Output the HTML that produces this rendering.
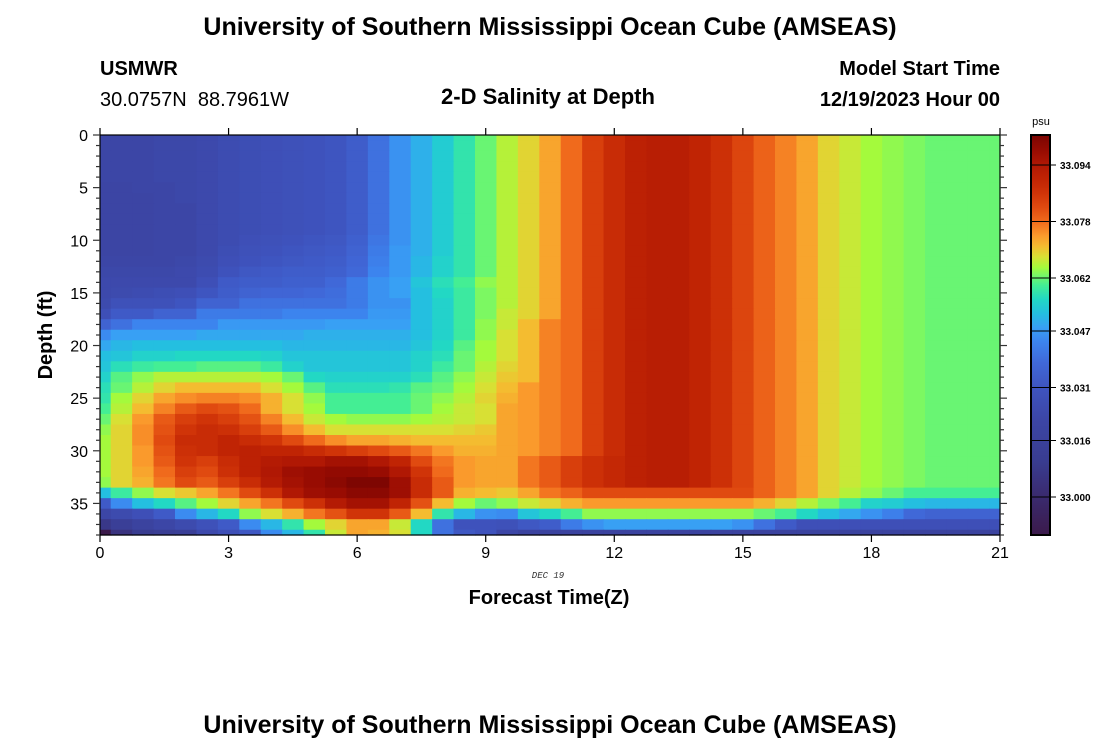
<!DOCTYPE html>
<html><head><meta charset="utf-8"><style>
html,body{margin:0;padding:0;background:#fff;}
svg{display:block;font-family:"Liberation Sans",Arial,sans-serif;}
text{white-space:pre;}
</style></head><body>
<svg id="chart" width="1100" height="750" viewBox="0 0 1100 750" xmlns="http://www.w3.org/2000/svg">
<text x="550" y="35" text-anchor="middle" font-size="25" font-weight="bold">University of Southern Mississippi Ocean Cube (AMSEAS)</text>
<text x="100" y="75" font-size="20" font-weight="bold">USMWR</text>
<text x="100" y="106" font-size="20" xml:space="preserve">30.0757N  88.7961W</text>
<text x="548" y="104" text-anchor="middle" font-size="22" font-weight="bold">2-D Salinity at Depth</text>
<text x="1000" y="75" text-anchor="end" font-size="20" font-weight="bold">Model Start Time</text>
<text x="1000" y="106" text-anchor="end" font-size="20" font-weight="bold">12/19/2023 Hour 00</text>
<g id="cells"></g>
<g id="axes"></g>
<g id="cbar"></g>
<text x="548" y="578" text-anchor="middle" font-size="9" font-style="italic" font-family="Liberation Mono, monospace" fill="#333">DEC 19</text>
<text x="549" y="604" text-anchor="middle" font-size="20" font-weight="bold">Forecast Time(Z)</text>
<text transform="translate(52,335) rotate(-90)" text-anchor="middle" font-size="20" font-weight="bold">Depth (ft)</text>
<text x="1041" y="125" text-anchor="middle" font-size="11">psu</text>
<text x="550" y="733" text-anchor="middle" font-size="25" font-weight="bold">University of Southern Mississippi Ocean Cube (AMSEAS)</text>
</svg>
<script>
const times = [0,0.5,1,1.5,2,2.5,3,3.5,4,4.5,5,5.5,6,6.5,7,7.5,8,8.5,9,9.5,10,10.5,11,11.5,12,12.5,13,13.5,14,14.5,15,15.5,16,16.5,17,17.5,18,18.5,19,19.5,20,20.5,21];
const depths = [0,1,2,3,4,5,6,7,8,9,10,11,12,13,14,15,16,17,18,19,20,21,22,23,24,25,26,27,28,29,30,31,32,33,34,35,36,37,38];
const xTicks = [0,3,6,9,12,15,18,21];
const yTicks = [0,5,10,15,20,25,30,35];
const cbTicks = [33.000,33.016,33.031,33.047,33.062,33.078,33.094];
const salinityBase = 33.000;
// salinity anomaly in thousandths of psu above 33.000; rows = depths, columns = times
const salinity = [
[22,22,22,23,23,24,26,27,28,29,30,31,34,40,46,50,54,58,62,66,69,73,78,84,88,91,92,92,90,87,83,79,76,73,69,67,65,64,63,62,62,62,62],
[22,22,22,23,23,24,26,27,28,29,30,31,34,40,46,50,54,58,62,66,69,73,78,84,88,91,92,92,90,87,83,79,76,73,69,67,65,64,63,62,62,62,62],
[22,22,22,23,23,24,26,27,28,29,30,31,34,40,46,50,54,58,62,66,69,73,78,84,88,91,92,92,90,87,83,79,76,73,69,67,65,64,63,62,62,62,62],
[22,22,22,23,23,24,26,27,28,29,30,31,34,40,46,50,54,58,62,66,69,73,78,84,88,91,92,92,90,87,83,79,76,73,69,67,65,64,63,62,62,62,62],
[22,22,22,23,23,24,26,27,28,29,30,31,34,40,46,50,54,58,62,66,69,73,78,84,88,91,92,92,90,87,83,79,76,73,69,67,65,64,63,62,62,62,62],
[21,21,22,22,23,24,26,27,28,29,30,31,34,40,46,50,54,58,62,66,69,73,78,84,88,91,92,92,90,87,83,79,76,73,69,67,65,64,63,62,62,62,62],
[21,21,21,22,23,24,26,27,28,29,30,31,34,40,46,50,54,58,62,66,69,73,78,84,88,91,92,92,90,87,83,79,76,73,69,67,65,64,63,62,62,62,62],
[21,21,21,22,22,24,26,27,28,29,30,31,34,40,46,50,54,58,62,66,69,73,78,84,88,91,92,92,90,87,83,79,76,73,69,67,65,64,63,62,62,62,62],
[21,21,21,22,22,24,26,27,28,29,30,31,34,40,46,50,54,58,62,66,69,73,78,84,88,91,92,92,90,87,83,79,76,73,69,67,65,64,63,62,62,62,62],
[21,21,21,22,22,24,26,27,28,29,30,31,34,40,46,50,54,58,62,66,69,73,78,84,88,91,92,92,90,87,83,79,76,73,69,67,65,64,63,62,62,62,62],
[21,21,21,22,22,24,26,28,29,30,31,32,35,41,46,50,54,58,62,66,69,73,78,84,88,91,92,92,90,87,83,79,76,73,69,67,65,64,63,62,62,62,62],
[21,21,21,22,22,24,27,29,30,31,32,33,36,42,47,50,54,58,62,66,69,73,78,84,88,91,92,92,90,87,83,79,76,73,69,67,65,64,63,62,62,62,62],
[22,22,22,22,23,25,28,30,31,32,33,34,37,43,47,51,55,58,62,66,69,73,78,84,88,91,92,92,90,87,83,79,76,73,69,67,65,64,63,62,62,62,62],
[23,23,23,23,24,26,30,32,33,34,34,35,38,44,47,51,55,58,62,66,69,73,78,84,88,91,92,92,90,87,83,79,76,73,69,67,65,64,63,62,62,62,62],
[24,24,24,24,24,28,33,34,34,35,35,38,42,46,48,53,57,60,64,66,69,73,78,84,88,91,92,92,90,87,83,79,76,73,69,67,65,64,63,62,62,62,62],
[24,25,26,27,28,31,34,36,37,37,38,39,42,46,48,52,56,59,63,66,69,73,78,84,88,91,92,92,90,87,83,79,76,73,69,67,65,64,63,62,62,62,62],
[25,29,29,29,31,36,36,40,40,40,40,40,42,46,46,52,55,59,63,66,69,73,78,84,88,91,92,92,90,87,83,79,76,73,69,67,65,64,63,62,62,62,62],
[28,33,33,36,36,42,42,42,42,44,44,44,44,47,47,52,55,59,63,67,69,73,78,84,88,91,92,92,90,87,83,79,76,73,69,67,65,64,63,62,62,62,62],
[36,40,44,44,44,44,47,47,47,47,47,48,48,48,48,52,55,59,64,67,71,76,78,84,88,91,92,92,90,87,83,79,76,73,69,67,65,64,63,62,62,62,62],
[45,48,48,48,48,49,49,49,49,49,50,50,50,50,50,52,55,59,64,68,71,76,78,84,88,91,92,92,90,87,83,79,76,73,69,67,65,64,63,62,62,62,62],
[49,51,52,52,52,52,52,52,52,51,51,51,51,51,51,53,56,61,65,68,71,76,78,84,88,91,92,92,90,87,83,79,76,73,69,67,65,64,63,62,62,62,62],
[52,53,55,55,56,56,56,56,55,53,53,53,53,53,53,55,57,62,65,68,71,76,78,84,88,91,92,92,90,87,83,79,76,73,69,67,65,64,63,62,62,62,62],
[53,57,59,60,60,61,61,61,59,55,53,53,53,53,53,55,59,62,66,69,71,76,78,84,88,91,92,92,90,87,83,79,76,73,69,67,65,64,63,62,62,62,62],
[55,61,64,66,66,66,66,66,65,62,56,55,55,55,55,57,61,64,67,70,71,76,78,84,88,91,92,92,90,87,83,79,76,73,69,67,65,64,63,62,62,62,62],
[57,62,66,69,71,71,71,71,68,65,61,57,57,57,58,61,62,65,68,71,74,76,78,84,88,91,92,92,90,87,83,79,76,73,69,67,65,64,63,62,62,62,62],
[58,65,69,73,75,76,76,75,72,68,64,60,60,60,60,62,64,66,69,72,74,76,78,84,88,91,92,92,90,87,83,79,76,73,69,67,65,64,63,62,62,62,62],
[60,66,71,76,80,82,81,78,72,68,65,60,60,60,60,62,65,67,68,73,74,76,78,84,88,91,92,92,90,87,83,79,76,73,69,67,65,64,63,62,62,62,62],
[62,68,74,80,84,86,84,81,76,71,67,65,64,64,64,65,66,67,68,73,74,76,78,84,88,91,92,92,90,87,83,79,76,73,69,67,65,64,63,62,62,62,62],
[64,69,75,81,86,88,87,84,80,75,71,68,68,68,68,68,68,69,70,73,74,76,78,84,88,91,92,92,90,87,83,79,76,73,69,67,65,64,63,62,62,62,62],
[65,69,75,82,88,88,90,88,86,82,78,75,73,73,72,71,71,71,71,73,74,76,78,84,88,91,92,92,90,87,83,79,76,73,69,67,65,64,63,62,62,62,62],
[65,69,74,81,87,88,90,91,90,90,88,86,84,82,80,77,74,72,72,73,74,76,78,84,88,91,92,92,90,87,83,79,76,73,69,67,65,64,63,62,62,62,62],
[65,69,74,80,86,84,88,91,93,94,94,96,96,94,90,82,77,74,73,73,77,80,84,87,89,91,92,92,90,87,83,79,76,73,69,67,65,64,63,62,62,62,62],
[65,69,73,78,84,82,87,91,94,97,98,99,99,98,94,86,78,74,73,73,77,80,84,87,89,91,92,92,90,87,83,79,76,73,69,67,65,64,63,62,62,62,62],
[64,69,72,77,82,80,84,88,93,96,98,100,102,102,97,88,80,74,73,73,77,80,84,87,89,91,92,92,90,87,83,79,76,73,69,67,65,64,63,62,62,62,62],
[52,59,64,68,70,73,77,82,87,94,97,98,100,100,97,88,80,72,71,70,73,77,79,82,82,82,82,82,82,82,82,79,76,73,69,66,64,62,60,60,60,60,60],
[33,45,52,56,61,65,69,73,77,82,87,93,96,96,90,81,71,65,62,64,67,69,72,74,74,74,74,74,74,74,74,72,69,66,63,60,55,54,52,51,51,51,51],
[22,25,28,33,45,51,56,64,68,72,77,81,86,86,80,71,58,51,46,45,53,56,60,64,64,64,64,64,64,64,64,62,60,56,52,49,46,43,38,36,36,36,36],
[8,14,18,22,25,29,33,45,51,58,65,69,73,73,67,56,40,30,30,29,32,34,42,46,48,48,48,48,48,48,46,40,33,28,28,28,28,28,28,28,28,28,28],
[-12,5,10,12,14,24,28,32,45,51,58,67,73,72,68,56,40,32,30,22,18,18,18,18,18,18,18,18,18,18,18,18,18,18,18,18,18,18,18,18,18,18,18]
];

const NS = "http://www.w3.org/2000/svg";
const PX0 = 100, PX1 = 1000, PY0 = 135, PY1 = 535;
const T_MAX = 21, D_MAX = 38;
const xScale = t => PX0 + (t / T_MAX) * (PX1 - PX0);
const yScale = d => PY0 + (d / D_MAX) * (PY1 - PY0);
const CB_Y0 = 497, CB_PX = 3.532;
const cbScale = s => CB_Y0 - (s - 33.000) * 1000 * CB_PX;

const stops = [
[-11,[59,26,74]],[0,[58,42,110]],[10,[57,60,144]],[22,[60,70,166]],[30,[62,82,188]],
[38,[64,104,216]],[44,[60,132,238]],[48,[56,160,244]],[52,[36,191,224]],[56,[34,216,196]],
[60,[68,238,148]],[63,[124,248,98]],[65,[164,250,60]],[68,[216,224,52]],[71,[244,188,48]],
[74,[250,154,44]],[78,[240,106,28]],[82,[224,74,16]],[86,[208,52,8]],[90,[192,36,4]],
[94,[176,24,4]],[98,[152,12,2]],[103,[120,4,2]]];
function colorFor(v){
  if (v <= stops[0][0]) return 'rgb('+stops[0][1].join(',')+')';
  for (let i=1;i<stops.length;i++){
    if (v <= stops[i][0]){
      const a=stops[i-1], b=stops[i], f=(v-a[0])/(b[0]-a[0]);
      const c=a[1].map((x,j)=>Math.round(x+(b[1][j]-x)*f));
      return 'rgb('+c.join(',')+')';
    }
  }
  return 'rgb('+stops[stops.length-1][1].join(',')+')';
}
function mk(tag, attrs, parent){
  const el=document.createElementNS(NS,tag);
  for (const k in attrs) el.setAttribute(k, attrs[k]);
  parent.appendChild(el);
  return el;
}

// heatmap
const cells=document.getElementById('cells');
const dt = times[1]-times[0], dd = depths[1]-depths[0];
for (let r=0;r<depths.length;r++){
  for (let c=0;c<times.length;c++){
    const x0=Math.max(PX0, xScale(times[c]-dt/2)), x1=Math.min(PX1, xScale(times[c]+dt/2));
    const y0=Math.max(PY0, yScale(depths[r]-dd/2)), y1=Math.min(PY1, yScale(depths[r]+dd/2));
    const v = salinity[r][c];
    const rect=mk('rect',{x:x0.toFixed(2),y:y0.toFixed(2),width:(x1-x0+0.6).toFixed(2),height:(y1-y0+0.6).toFixed(2),fill:colorFor(v)},cells);
    
    
  }
}

// axes
const axes=document.getElementById('axes');
const frame=mk('rect',{x:PX0,y:PY0,width:PX1-PX0,height:PY1-PY0,fill:'none',stroke:'#000','stroke-width':1.2},axes);


for (const t of xTicks){
  const x=xScale(t);
  mk('line',{x1:x,y1:PY1,x2:x,y2:PY1+7,stroke:'#000','stroke-width':1.2},axes);
  mk('line',{x1:x,y1:PY0,x2:x,y2:PY0-7,stroke:'#000','stroke-width':1.2},axes);
  const lab=mk('text',{x:x,y:PY1+23,'text-anchor':'middle','font-size':16},axes);
  lab.textContent=String(t);
  
  
}
for (const d of depths){
  const y=yScale(d);
  const major = yTicks.indexOf(d)>=0;
  mk('line',{x1:PX0,y1:y,x2:PX0-(major?7:4),y2:y,stroke:'#333','stroke-width':1.2},axes);
  mk('line',{x1:PX1,y1:y,x2:PX1+(major?7:4),y2:y,stroke:'#333','stroke-width':1.2},axes);
}
for (const d of yTicks){
  const lab=mk('text',{x:PX0-12,y:yScale(d)+6,'text-anchor':'end','font-size':16},axes);
  lab.textContent=String(d);
  
  
}

// colorbar
const cb=document.getElementById('cbar');
const CBX=1031, CBW=19;
for (let y=PY0;y<PY1;y+=1){
  const s = 33.000 + (CB_Y0 - (y+0.5))/CB_PX/1000;
  mk('rect',{x:CBX,y:y,width:CBW,height:1.2,fill:colorFor((s-salinityBase)*1000)},cb);
}
const cbFrame=mk('rect',{x:CBX,y:PY0,width:CBW,height:PY1-PY0,fill:'none',stroke:'#000','stroke-width':2},cb);


for (const s of cbTicks){
  const y=cbScale(s);
  mk('line',{x1:CBX,y1:y,x2:CBX+CBW+6,y2:y,stroke:'#000','stroke-width':1},cb);
  const lab=mk('text',{x:1060,y:y+4,'font-size':10,'font-weight':'bold'},cb);
  lab.textContent=s.toFixed(3);
  
  
}
</script>
</body></html>
